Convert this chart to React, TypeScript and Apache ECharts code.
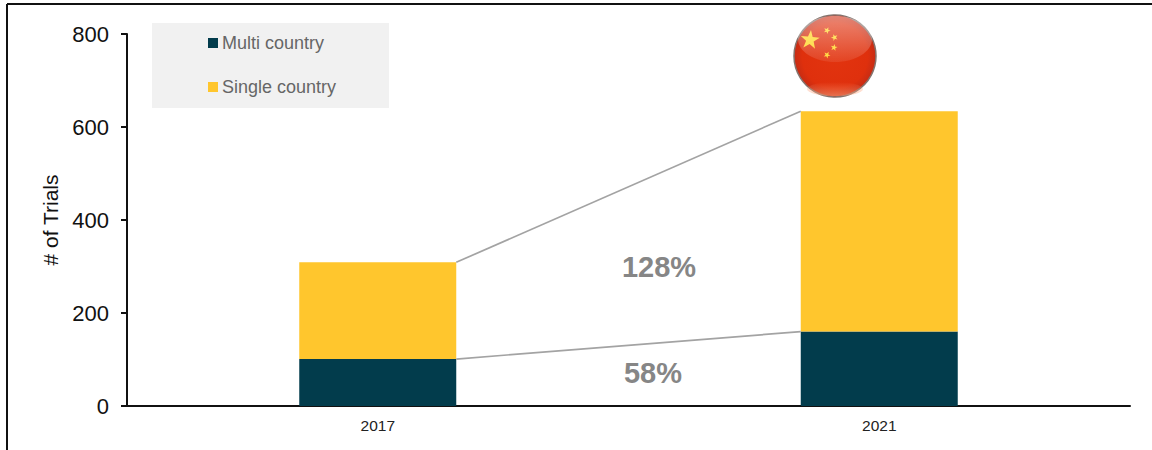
import React, { useEffect, useRef } from "react";
import * as echarts from "echarts";

const years = ["2017", "2021"];
const multiCountry = [101, 160];
const singleCountry = [208, 474];
const yTicks = [0, 200, 400, 600, 800];
const growthLabels = ["128%", "58%"];

const FONT = "'Liberation Sans', Arial, sans-serif";
const NAVY = "#023c4c";
const AMBER = "#ffc62d";

// five-pointed star points around a centre
const starPoints = (cx: number, cy: number, r: number, rot = 0) => {
  const pts: number[][] = [];
  for (let i = 0; i < 10; i++) {
    const a = -Math.PI / 2 + rot + (i * Math.PI) / 5;
    const rr = i % 2 === 0 ? r : r * 0.4;
    pts.push([cx + rr * Math.cos(a), cy + rr * Math.sin(a)]);
  }
  return pts;
};

const star = (cx: number, cy: number, r: number, rot = 0) => ({
  type: "polygon",
  shape: { points: starPoints(cx, cy, r, rot) },
  style: { fill: "#ffd62a" },
  silent: true,
});

export default function App() {
  const ref = useRef<HTMLDivElement>(null);

  useEffect(() => {
    const chart = echarts.init(ref.current!, undefined, { renderer: "svg" });
    const totals = multiCountry.map((v, i) => v + singleCountry[i]);
    const connectors = [
      [0, multiCountry[0], 1, multiCountry[1]],
      [0, totals[0], 1, totals[1]],
    ];
    chart.setOption({
      animation: false,
      grid: { left: 127, right: 22, top: 34, bottom: 44 },
      legend: {
        orient: "vertical",
        left: 208,
        top: 34,
        padding: 0,
        itemGap: 26,
        itemWidth: 10,
        itemHeight: 10,
        itemStyle: { borderWidth: 0 },
        icon: "rect",
        selectedMode: false,
        textStyle: { fontFamily: FONT, fontSize: 18, color: "#666666", padding: [0, 0, 0, -1] },
        data: ["Multi country", "Single country"],
      },
      xAxis: {
        type: "category",
        data: years,
        axisTick: { show: false },
        axisLine: { lineStyle: { color: "#111111", width: 2 } },
        axisLabel: { fontFamily: FONT, fontSize: 15.5, color: "#222222", margin: 11 },
      },
      yAxis: {
        type: "value",
        min: yTicks[0],
        max: yTicks[yTicks.length - 1],
        interval: 200,
        name: "# of Trials",
        nameLocation: "middle",
        nameGap: 63,
        nameTextStyle: { fontFamily: FONT, fontSize: 21, color: "#111111" },
        splitLine: { show: false },
        axisLine: { show: true, lineStyle: { color: "#111111", width: 2 } },
        axisTick: { show: true, length: 6, lineStyle: { color: "#111111", width: 2 } },
        axisLabel: { fontFamily: FONT, fontSize: 22, color: "#111111", margin: 18 },
      },
      series: [
        {
          name: "Multi country",
          type: "bar",
          stack: "trials",
          barWidth: 157,
          data: multiCountry,
          itemStyle: { color: NAVY },
        },
        {
          name: "Single country",
          type: "bar",
          stack: "trials",
          barWidth: 157,
          data: singleCountry,
          itemStyle: { color: AMBER },
        },
        {
          // grey lines joining the right edge of one bar to the left edge of the next
          type: "custom",
          silent: true,
          z: 5,
          data: connectors,
          encode: { x: [0, 2], y: [1, 3] },
          renderItem: (_params: any, api: any) => {
            const half = (api.size([1, 0]) as number[])[0] * (157 / 2 / 501.5);
            const a = api.coord([api.value(0), api.value(1)]);
            const b = api.coord([api.value(2), api.value(3)]);
            return {
              type: "line",
              shape: { x1: a[0] + half, y1: a[1], x2: b[0] - half, y2: b[1] },
              style: { stroke: "#a3a3a3", lineWidth: 1.7 },
            };
          },
        },
      ],
      graphic: [
        // outer frame: left and top rules
        {
          type: "line",
          z: -1,
          shape: { x1: 7, y1: 4, x2: 7, y2: 450 },
          style: { stroke: "#111111", lineWidth: 2 },
        },
        {
          type: "line",
          z: -1,
          shape: { x1: 7, y1: 4, x2: 1152, y2: 4 },
          style: { stroke: "#111111", lineWidth: 2 },
        },
        // legend panel
        {
          type: "rect",
          z: -1,
          shape: { x: 152, y: 23, width: 237, height: 85 },
          style: { fill: "#f1f1f1" },
        },
        // growth labels
        {
          type: "text",
          x: 659,
          y: 267,
          style: {
            text: growthLabels[0],
            fontFamily: FONT,
            fontSize: 29,
            fontWeight: "bold",
            fill: "#868686",
            align: "center",
            verticalAlign: "middle",
          },
        },
        {
          type: "text",
          x: 653,
          y: 373,
          style: {
            text: growthLabels[1],
            fontFamily: FONT,
            fontSize: 29,
            fontWeight: "bold",
            fill: "#868686",
            align: "center",
            verticalAlign: "middle",
          },
        },
        // glossy flag badge
        {
          type: "group",
          silent: true,
          children: [
            {
              type: "circle",
              shape: { cx: 835, cy: 56, r: 41 },
              style: {
                stroke: "#85726c",
                lineWidth: 1.5,
                fill: {
                  type: "radial",
                  x: 0.5,
                  y: 0.5,
                  r: 0.5,
                  colorStops: [
                    { offset: 0, color: "#e2340f" },
                    { offset: 0.8, color: "#df300d" },
                    { offset: 1, color: "#c62c14" },
                  ],
                },
              },
            },
            star(810, 40, 10, 0.1),
            star(827, 30.5, 3.6, 0.4),
            star(834.5, 37.5, 3.6, 0.9),
            star(834, 47.5, 3.6, 0.2),
            star(827, 55, 3.6, 0.5),
            {
              type: "ellipse",
              shape: { cx: 835, cy: 39, rx: 37, ry: 23 },
              style: {
                fill: {
                  type: "linear",
                  x: 0,
                  y: 0,
                  x2: 0,
                  y2: 1,
                  colorStops: [
                    { offset: 0, color: "rgba(255,255,255,0.42)" },
                    { offset: 1, color: "rgba(255,255,255,0.08)" },
                  ],
                },
              },
            },
            {
              type: "ellipse",
              shape: { cx: 835, cy: 89, rx: 28, ry: 7 },
              style: {
                fill: {
                  type: "linear",
                  x: 0,
                  y: 0,
                  x2: 0,
                  y2: 1,
                  colorStops: [
                    { offset: 0, color: "rgba(255,150,110,0)" },
                    { offset: 1, color: "rgba(255,170,130,0.55)" },
                  ],
                },
              },
            },
          ],
        },
      ],
    });
    return () => chart.dispose();
  }, []);

  return <div ref={ref} style={{ position: "absolute", left: 0, top: 0, width: 1152, height: 450 }} />;
}
